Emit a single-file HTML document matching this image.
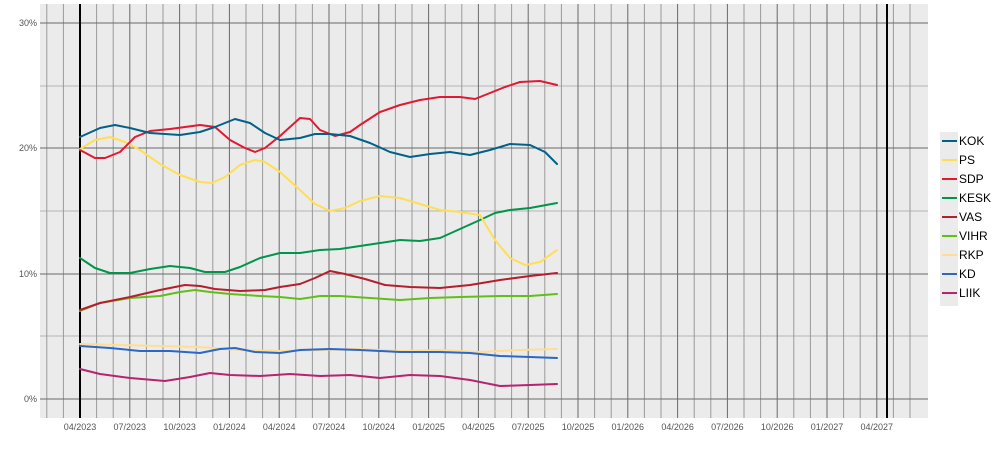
<!DOCTYPE html>
<html><head><meta charset="utf-8"><style>
body{margin:0;background:#fff;width:1000px;height:445px;overflow:hidden;font-family:"Liberation Sans",sans-serif}
</style></head><body>
<svg width="1000" height="445" viewBox="0 0 1000 445" xmlns="http://www.w3.org/2000/svg">
<rect x="40" y="4" width="888" height="414" fill="#ebebeb"/>
<g stroke="#b5b5b5" stroke-width="1">
<line x1="40" x2="928" y1="86" y2="86"/><line x1="40" x2="928" y1="211" y2="211"/><line x1="40" x2="928" y1="336" y2="336"/>
</g>
<g id="vm" stroke="#9a9a9a" stroke-width="1"></g>
<g stroke="#6a6a6a" stroke-width="1">
<line x1="40" x2="928" y1="23" y2="23"/><line x1="40" x2="928" y1="148" y2="148"/><line x1="40" x2="928" y1="274" y2="274"/><line x1="40" x2="928" y1="399" y2="399"/>
</g>
<g id="vq" stroke="#6a6a6a" stroke-width="1"></g>
<line x1="80" x2="80" y1="4" y2="418" stroke="#000" stroke-width="2"/>
<line x1="887" x2="887" y1="4" y2="418" stroke="#000" stroke-width="2"/>
<g font-size="9" fill="#555" text-anchor="end">
<text x="37" y="26">30%</text><text x="37" y="151">20%</text><text x="37" y="277">10%</text><text x="37" y="402">0%</text>
</g>
<g id="xl" font-size="9" fill="#555" text-anchor="middle"></g>
<g fill="none" stroke-width="2" stroke-linejoin="round" stroke-linecap="round">
<polyline stroke="#ffdd93" points="80,344 120,345 160,346 200,347 240,350 280,351 320,350 360,349 400,351 440,350 480,352 520,350 557,349"/>
<polyline stroke="#2b67c9" points="80,346 110,348 140,351 170,351 200,353 220,349 235,348 255,352 280,353 300,350 330,349 360,350 400,352 440,352 470,353 500,356 530,357 557,358"/>
<polyline stroke="#b6236f" points="80,369 100,374 130,378 165,381 190,377 210,373 230,375 260,376 290,374 320,376 350,375 380,378 410,375 440,376 470,380 500,386 530,385 557,384"/>
<polyline stroke="#61bf1a" points="80,311 100,303 130,298 160,296 180,292 195,290 210,292 230,294 260,296 280,297 300,299 320,296 340,296 370,298 400,300 430,298 460,297 500,296 530,296 557,294"/>
<polyline stroke="#b61e2e" points="80,310 100,303 130,297 160,290 185,285 200,286 215,289 240,291 265,290 280,287 300,284 315,278 330,271 345,274 365,279 385,285 410,287 440,288 470,285 500,280 530,276 557,273"/>
<polyline stroke="#01954b" points="80,258 95,268 110,273 130,273 150,269 170,266 190,268 205,272 225,272 240,267 260,258 280,253 300,253 320,250 340,249 360,246 380,243 400,240 420,241 440,238 460,229 480,220 495,213 510,210 530,208 557,203"/>
<polyline stroke="#ffde55" points="80,149 95,140 110,137 125,142 140,150 160,164 180,175 200,182 212,183 225,177 240,165 255,160 265,162 280,172 300,190 315,204 330,211 345,208 360,201 380,196 400,198 420,204 440,210 460,212 480,215 495,240 510,258 525,265 540,262 557,250"/>
<polyline stroke="#e11931" points="80,150 95,158 105,158 120,152 135,137 150,131 170,129 185,127 200,125 215,127 230,140 245,148 255,152 265,148 280,136 290,127 300,118 310,119 320,130 335,136 350,132 360,125 380,112 400,105 420,100 440,97 460,97 475,99 490,93 505,87 520,82 540,81 557,85"/>
<polyline stroke="#006288" points="80,137 100,128 115,125 130,128 150,133 180,135 200,132 215,127 235,119 250,123 265,133 280,140 300,138 315,134 330,134 350,136 370,143 390,152 410,157 430,154 450,152 470,155 490,150 510,144 530,145 545,152 557,164"/>
</g>
<rect x="940" y="132" width="18" height="174" fill="#ebebeb"/>
<g stroke-width="2">
<line x1="942" x2="957" y1="141" y2="141" stroke="#006288"/>
<line x1="942" x2="957" y1="160" y2="160" stroke="#ffde55"/>
<line x1="942" x2="957" y1="179" y2="179" stroke="#e11931"/>
<line x1="942" x2="957" y1="198" y2="198" stroke="#01954b"/>
<line x1="942" x2="957" y1="217" y2="217" stroke="#b61e2e"/>
<line x1="942" x2="957" y1="236" y2="236" stroke="#61bf1a"/>
<line x1="942" x2="957" y1="255" y2="255" stroke="#ffdd93"/>
<line x1="942" x2="957" y1="274" y2="274" stroke="#2b67c9"/>
<line x1="942" x2="957" y1="293" y2="293" stroke="#b6236f"/>
</g>
<g font-size="12" fill="#000">
<text x="959" y="145">KOK</text><text x="959" y="164">PS</text><text x="959" y="183">SDP</text><text x="959" y="202">KESK</text><text x="959" y="221">VAS</text><text x="959" y="240">VIHR</text><text x="959" y="259">RKP</text><text x="959" y="278">KD</text><text x="959" y="297">LIIK</text>
</g>
</svg>
<script>
var ns="http://www.w3.org/2000/svg",vm=document.getElementById('vm'),vq=document.getElementById('vq'),xl=document.getElementById('xl');
var labels=["04/2023","07/2023","10/2023","01/2024","04/2024","07/2024","10/2024","01/2025","04/2025","07/2025","10/2025","01/2026","04/2026","07/2026","10/2026","01/2027","04/2027"];
for(var m=-2;m<51;m++){var x=80+m*16.6;if(x<41||x>927)continue;var l=document.createElementNS(ns,'line');l.setAttribute('x1',x);l.setAttribute('x2',x);l.setAttribute('y1',4);l.setAttribute('y2',418);
if(m%3==0&&m>=0){vq.appendChild(l);var t=document.createElementNS(ns,'text');t.setAttribute('x',x);t.setAttribute('y',430);t.textContent=labels[m/3];xl.appendChild(t);}else vm.appendChild(l);}
</script>
</body></html>
